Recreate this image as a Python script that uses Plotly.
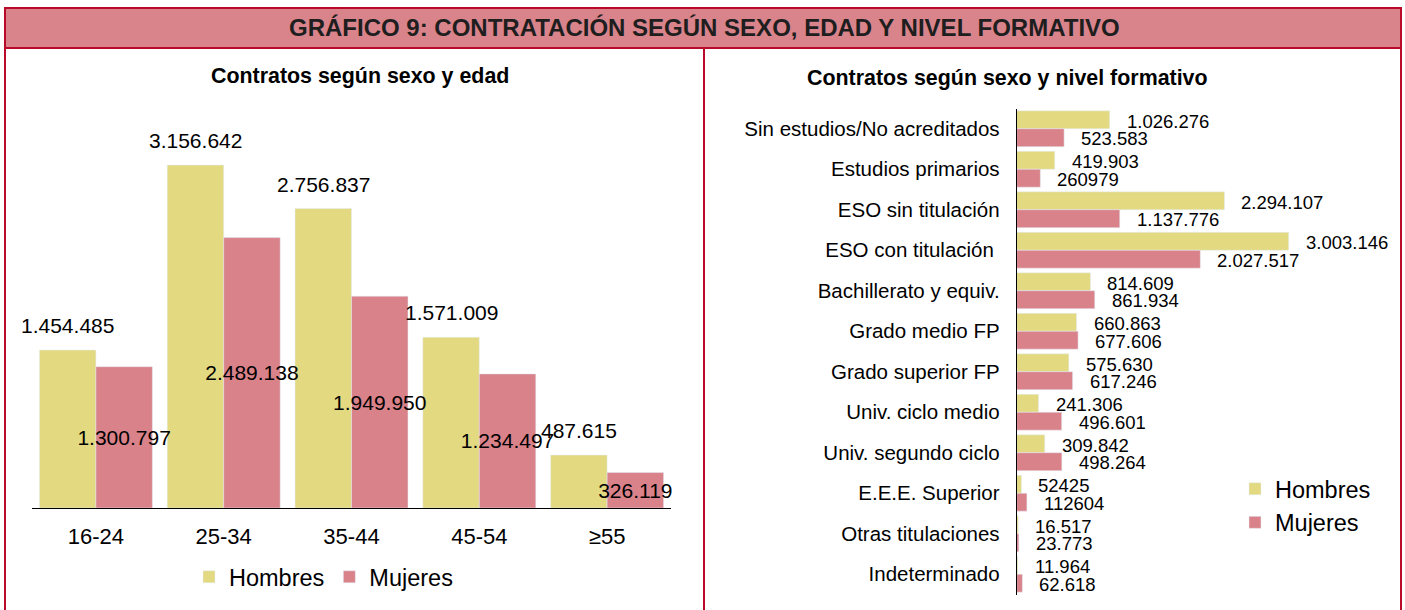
import plotly.graph_objects as go

W, H = 1405, 610

# ---------------- data ----------------
edades = ["16-24", "25-34", "35-44", "45-54", "≥55"]
edad_hombres = [1454485, 3156642, 2756837, 1571009, 487615]
edad_mujeres = [1300797, 2489138, 1949950, 1234497, 326119]

niveles = ["Sin estudios/No acreditados", "Estudios primarios", "ESO sin titulación",
           "ESO con titulación ", "Bachillerato y equiv.", "Grado medio FP",
           "Grado superior FP", "Univ. ciclo medio", "Univ. segundo ciclo",
           "E.E.E. Superior", "Otras titulaciones", "Indeterminado"]
nivel_hombres = [1026276, 419903, 2294107, 3003146, 814609, 660863, 575630,
                 241306, 309842, 52425, 16517, 11964]
nivel_mujeres = [523583, 260979, 1137776, 2027517, 861934, 677606, 617246,
                 496601, 498264, 112604, 23773, 62618]
# labels shown without thousands separator in the original
sin_sep_hombres = {9}
sin_sep_mujeres = {1, 9}

titulo = "GRÁFICO 9: CONTRATACIÓN SEGÚN SEXO, EDAD Y NIVEL FORMATIVO"
sub_izq = "Contratos según sexo y edad"
sub_der = "Contratos según sexo y nivel formativo"

# ---------------- style ----------------
C_H = "#E2D981"
C_M = "#D9828A"
C_BORDE = "#BA0A2A"
C_BANDA = "#D9838B"
FONT = "Liberation Sans, Arial, sans-serif"


def fmt(v, sep=True):
    return f"{v:,}".replace(",", ".") if sep else str(v)


def px(x):
    return x / W


def py(y):
    return 1 - y / H


fig = go.Figure()

# left chart
fig.add_trace(go.Bar(x=edades, y=edad_hombres, name="Hombres", marker_color=C_H,
                     xaxis="x", yaxis="y", legend="legend", hoverinfo="skip"))
fig.add_trace(go.Bar(x=edades, y=edad_mujeres, name="Mujeres", marker_color=C_M,
                     xaxis="x", yaxis="y", legend="legend", hoverinfo="skip",
                     text=[fmt(v) for v in edad_mujeres], textposition="inside",
                     insidetextanchor="middle", textangle=0, constraintext="none",
                     cliponaxis=False,
                     insidetextfont=dict(family=FONT, size=21, color="black")))

# right chart
fig.add_trace(go.Bar(y=niveles, x=nivel_hombres, orientation="h", name="Hombres",
                     marker_color=C_H, xaxis="x2", yaxis="y2", legend="legend2",
                     hoverinfo="skip"))
fig.add_trace(go.Bar(y=niveles, x=nivel_mujeres, orientation="h", name="Mujeres",
                     marker_color=C_M, xaxis="x2", yaxis="y2", legend="legend2",
                     hoverinfo="skip"))

ann = []
# left Hombres labels above bars
for c, v in zip(edades, edad_hombres):
    ann.append(dict(x=c, y=v, xref="x", yref="y", text=fmt(v), showarrow=False,
                    xanchor="center", yanchor="middle", xshift=-28.3, yshift=24.5,
                    font=dict(family=FONT, size=21, color="black")))
# right labels
for i, (c, v) in enumerate(zip(niveles, nivel_hombres)):
    ann.append(dict(x=v, y=c, xref="x2", yref="y2", text=fmt(v, i not in sin_sep_hombres),
                    showarrow=False, xanchor="left", yanchor="middle", xshift=15,
                    yshift=7.3, font=dict(family=FONT, size=18.5, color="black")))
for i, (c, v) in enumerate(zip(niveles, nivel_mujeres)):
    ann.append(dict(x=v, y=c, xref="x2", yref="y2", text=fmt(v, i not in sin_sep_mujeres),
                    showarrow=False, xanchor="left", yanchor="middle", xshift=15,
                    yshift=-10, font=dict(family=FONT, size=18.5, color="black")))

# titles
ann.append(dict(x=px(704), y=py(27), xref="paper", yref="paper", text=f"<b>{titulo}</b>",
                showarrow=False, xanchor="center", yanchor="middle",
                font=dict(family=FONT, size=24, color="#1e1e1e")))
ann.append(dict(x=px(360), y=py(76), xref="paper", yref="paper", text=f"<b>{sub_izq}</b>",
                showarrow=False, xanchor="center", yanchor="middle",
                font=dict(family=FONT, size=21.4, color="black")))
ann.append(dict(x=px(1007.5), y=py(78), xref="paper", yref="paper", text=f"<b>{sub_der}</b>",
                showarrow=False, xanchor="center", yanchor="middle",
                font=dict(family=FONT, size=21.4, color="black")))

shapes = [
    # panels frame
    dict(type="rect", xref="paper", yref="paper", x0=px(5), x1=px(1401), y0=py(614), y1=py(48),
         line=dict(color=C_BORDE, width=2), fillcolor="rgba(0,0,0,0)", layer="below"),
    # divider
    dict(type="line", xref="paper", yref="paper", x0=px(704), x1=px(704), y0=py(614), y1=py(48),
         line=dict(color=C_BORDE, width=2)),
    # title band
    dict(type="rect", xref="paper", yref="paper", x0=px(5), x1=px(1401), y0=py(48), y1=py(8),
         line=dict(color=C_BORDE, width=2), fillcolor=C_BANDA, layer="below"),
]

yl_max = (508 - 100) / 108.63e-6
xr_max = (1390 - 1016.7) / 90.57e-6

fig.update_layout(
    width=W, height=H, margin=dict(l=0, r=0, t=0, b=0),
    paper_bgcolor="white", plot_bgcolor="white",
    barmode="group", bargap=0.116, bargroupgap=0,
    font=dict(family=FONT, color="black"),
    xaxis=dict(domain=[px(32), px(671)], anchor="y", range=[-0.5, len(edades) - 0.5],
               showline=True, linecolor="black",
               linewidth=1, ticks="", showgrid=False, zeroline=False,
               tickfont=dict(family=FONT, size=22, color="black"), ticklabelstandoff=9,
               fixedrange=True),
    yaxis=dict(domain=[py(508), py(100)], anchor="x", range=[0, yl_max], visible=False,
               fixedrange=True),
    xaxis2=dict(domain=[px(1016.7), px(1390)], anchor="y2", range=[0, xr_max], visible=False,
                fixedrange=True),
    yaxis2=dict(domain=[py(594.5), py(108.5)], anchor="x2", range=[len(niveles) - 0.5, -0.5],
                showline=True, linecolor="black", linewidth=1, ticks="", showgrid=False,
                zeroline=False, tickfont=dict(family=FONT, size=20.5, color="black"),
                ticklabelstandoff=12, fixedrange=True),
    legend=dict(orientation="h", x=px(189), y=py(577), xanchor="left", yanchor="middle",
                font=dict(family=FONT, size=23.5, color="black"), bgcolor="rgba(0,0,0,0)",
                itemclick=False, itemdoubleclick=False),
    legend2=dict(orientation="v", x=px(1235), y=py(506), xanchor="left", yanchor="middle",
                 font=dict(family=FONT, size=23.5, color="black"), bgcolor="rgba(0,0,0,0)",
                 itemclick=False, itemdoubleclick=False),
    annotations=ann, shapes=shapes, showlegend=True,
)

fig.write_html("out.html", config={"displayModeBar": False},
               post_script="document.body.style.margin='0';document.body.style.overflow='hidden';")
